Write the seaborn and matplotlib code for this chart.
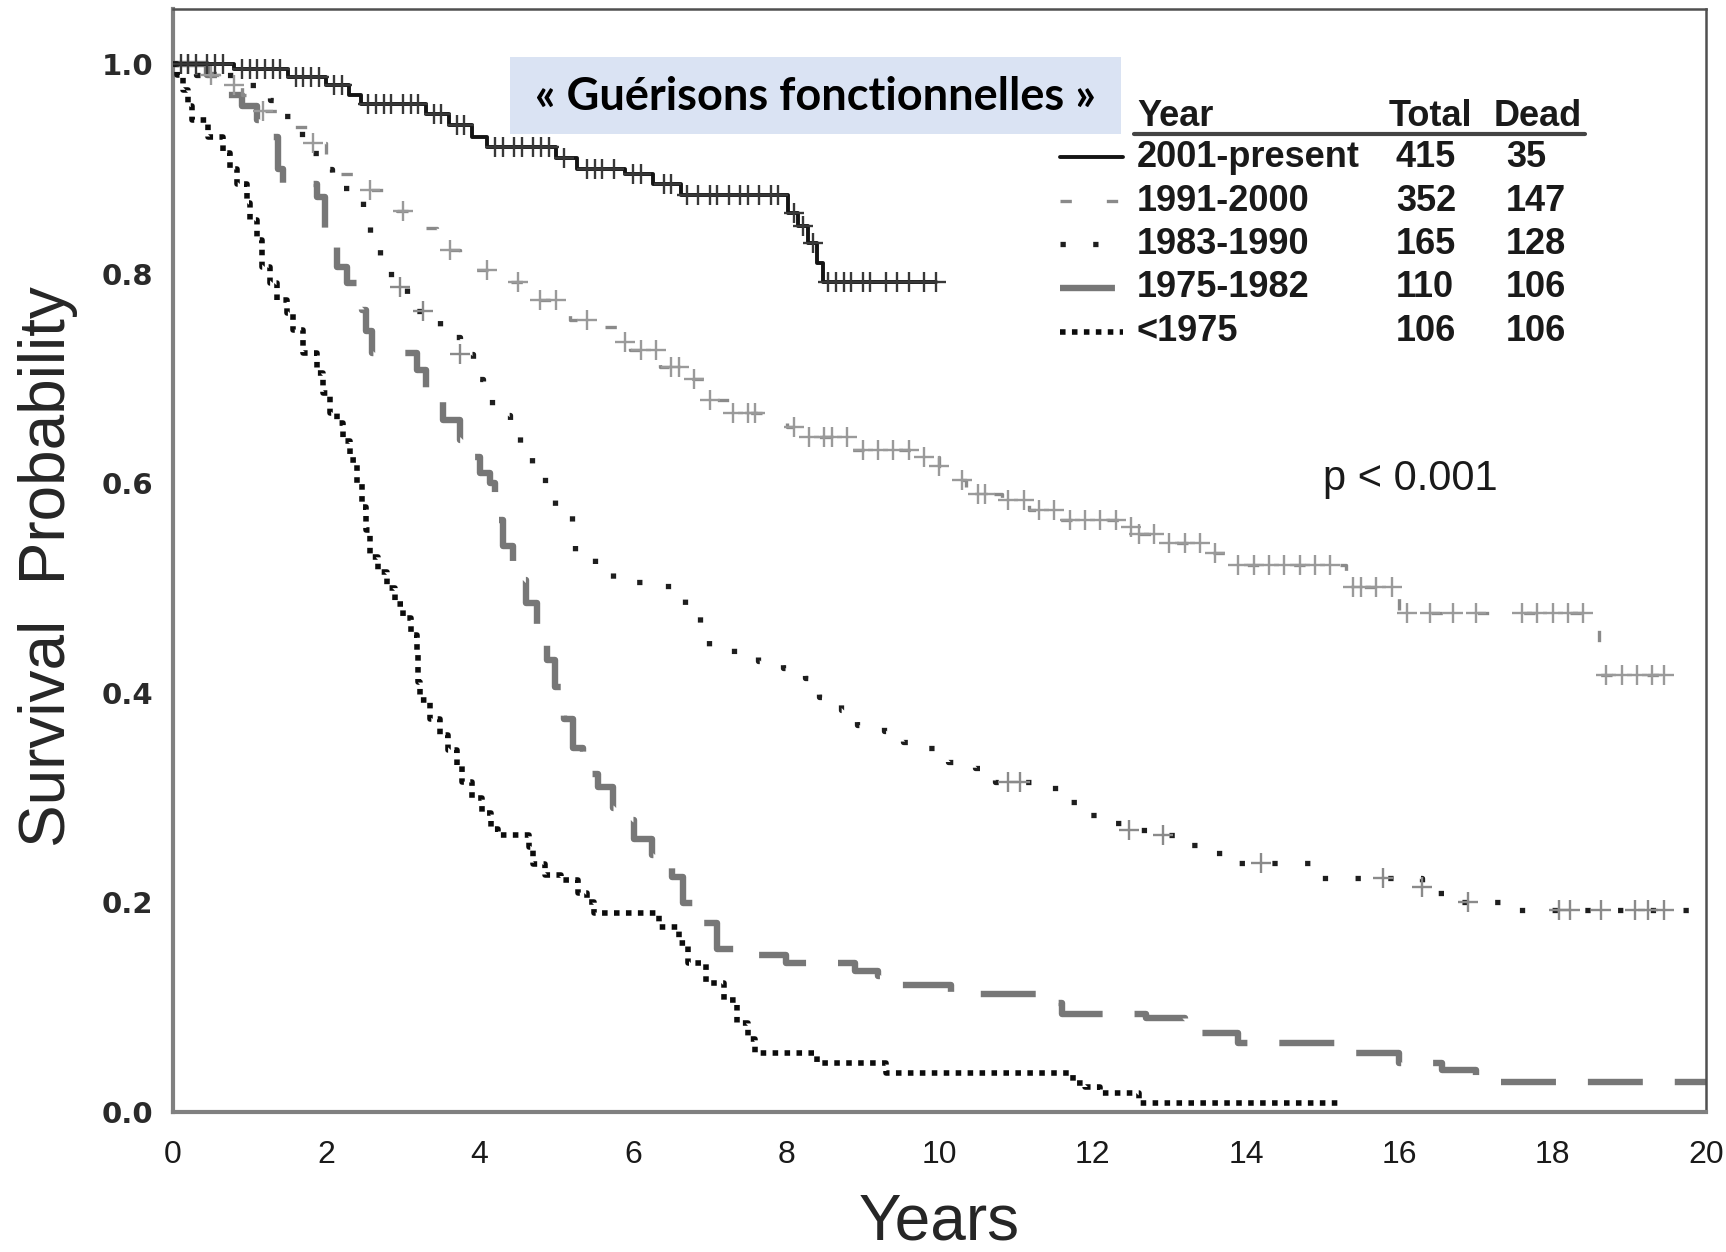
import numpy as np
import pandas as pd
import matplotlib
matplotlib.use("Agg")
import matplotlib.pyplot as plt
import seaborn as sns
from matplotlib.lines import Line2D
from matplotlib.patches import Rectangle

sns.set_style("white")
plt.rcParams["font.family"] = ["Liberation Sans", "DejaVu Sans"]

# ---- Kaplan-Meier step data (years, survival) ----
t_2001 = [0, 0.8, 1.5, 2.0, 2.3, 2.45, 3.3, 3.6, 3.9, 4.1, 5.0, 5.27, 5.9, 6.26,
          6.63, 8.02, 8.15, 8.28, 8.4, 8.48, 9.95]
s_2001 = [1.0, 0.995, 0.988, 0.98, 0.97, 0.962, 0.952, 0.942, 0.93, 0.921, 0.91,
          0.9, 0.895, 0.886, 0.875, 0.858, 0.845, 0.829, 0.81, 0.792, 0.792]
c_2001 = [0.1, 0.2, 0.3, 0.45, 0.55, 0.65, 0.9, 1.0, 1.1, 1.2, 1.3, 1.4, 1.6, 1.7,
          1.8, 1.9, 2.1, 2.2, 2.55, 2.65, 2.75, 2.85, 3.0, 3.1, 3.2, 3.4, 3.5, 3.7,
          3.8, 4.2, 4.3, 4.45, 4.55, 4.7, 4.8, 4.9, 5.1, 5.4, 5.5, 5.6, 5.75, 6.0,
          6.1, 6.4, 6.5, 6.7, 6.85, 7.0, 7.1, 7.25, 7.4, 7.5, 7.65, 7.8, 7.9,
          8.1, 8.22, 8.35, 8.55, 8.65, 8.75, 8.85, 9.0, 9.1, 9.3, 9.45, 9.6, 9.8, 9.95]

t_1991 = [0, 0.3, 0.6, 0.9, 1.1, 1.5, 1.83, 2.0, 2.18, 2.57, 2.75, 2.92, 3.29, 3.45,
          3.61, 3.75, 3.91, 4.36, 4.79, 5.18, 5.61, 5.8, 5.96, 6.35, 6.79, 6.97, 7.25,
          8.01, 8.25, 8.83, 9.64, 9.99, 10.23, 10.35, 10.82, 11.17, 11.57, 12.38,
          12.56, 12.97, 13.44, 13.84, 15.3, 16.0, 18.55, 18.6, 19.45]
s_1991 = [1.0, 0.99, 0.98, 0.97, 0.955, 0.94, 0.925, 0.91, 0.895, 0.88, 0.87, 0.86,
          0.844, 0.835, 0.823, 0.812, 0.803, 0.792, 0.775, 0.756, 0.749, 0.735,
          0.727, 0.711, 0.699, 0.679, 0.667, 0.654, 0.644, 0.632, 0.625, 0.616,
          0.603, 0.59, 0.584, 0.574, 0.565, 0.558, 0.552, 0.543, 0.533, 0.522,
          0.501, 0.476, 0.463, 0.417, 0.417]
c_1991 = [0.2, 0.5, 0.8, 1.17, 1.83, 2.57, 3.0, 3.61, 4.1, 4.5, 4.79, 5.0, 5.4, 5.9,
          6.1, 6.3, 6.5, 6.6, 6.8, 7.0, 7.3, 7.5, 7.6, 8.1, 8.3, 8.5, 8.6, 8.8, 9.0,
          9.2, 9.4, 9.6, 9.8, 10.0, 10.3, 10.5, 10.6, 10.9, 11.1, 11.3, 11.5, 11.7,
          11.9, 12.1, 12.3, 12.5, 12.6, 12.8, 13.0, 13.2, 13.4, 13.6, 13.9, 14.1,
          14.3, 14.5, 14.7, 14.9, 15.1, 15.4, 15.5, 15.7, 15.9, 16.1, 16.4, 16.7,
          17.0, 17.6, 17.8, 18.0, 18.2, 18.4, 18.7, 18.9, 19.1, 19.3, 19.45]

t_1983 = [0, 0.3, 0.9, 1.27, 1.4, 1.57, 1.68, 1.92, 2.07, 2.35, 2.48, 2.57, 2.7, 2.85,
          3.05, 3.1, 3.49, 3.75, 3.92, 4.05, 4.16, 4.4, 4.53, 4.68, 4.85, 4.98, 5.2,
          5.24, 5.5, 5.74, 6.46, 6.68, 6.88, 6.99, 7.32, 7.63, 7.96, 8.25, 8.43,
          8.72, 8.92, 9.27, 9.52, 9.85, 10.11, 10.46, 10.72, 11.45, 11.68, 11.93,
          12.22, 12.47, 12.92, 13.2, 13.53, 13.83, 14.88, 16.3, 16.45, 16.66, 17.39,
          19.95]
s_1983 = [1.0, 0.99, 0.98, 0.966, 0.95, 0.937, 0.915, 0.9, 0.882, 0.873, 0.849, 0.825,
          0.805, 0.787, 0.768, 0.764, 0.74, 0.723, 0.699, 0.68, 0.665, 0.654, 0.632,
          0.611, 0.594, 0.573, 0.555, 0.53, 0.517, 0.506, 0.498, 0.481, 0.467, 0.444,
          0.436, 0.43, 0.424, 0.414, 0.396, 0.384, 0.369, 0.364, 0.353, 0.347, 0.334,
          0.328, 0.315, 0.309, 0.296, 0.283, 0.276, 0.269, 0.264, 0.255, 0.247,
          0.238, 0.223, 0.215, 0.209, 0.2, 0.193, 0.193]
c_1983 = [2.96, 3.26, 3.75, 10.9, 11.05, 12.47, 12.92, 14.19, 15.79, 16.3, 16.9,
          18.08, 18.23, 18.63, 19.07, 19.25, 19.45]

t_1975 = [0, 0.45, 0.7, 0.9, 1.1, 1.17, 1.37, 1.44, 1.88, 1.98, 2.05, 2.14, 2.27,
          2.47, 2.52, 2.6, 3.18, 3.3, 3.39, 3.52, 3.74, 3.9, 4.0, 4.13, 4.2, 4.3,
          4.44, 4.6, 4.75, 4.88, 4.98, 5.1, 5.22, 5.35, 5.55, 5.74, 5.78, 6.01, 6.25,
          6.51, 6.65, 6.9, 7.1, 7.5, 8.0, 8.9, 9.2, 9.5, 10.15, 11.42, 11.6, 12.7,
          13.2, 13.42, 13.9, 15.17, 16.0, 16.56, 17.0, 17.29, 20.0]
s_1975 = [1.0, 0.99, 0.97, 0.96, 0.947, 0.93, 0.9, 0.886, 0.873, 0.84, 0.825, 0.806,
          0.791, 0.765, 0.745, 0.724, 0.708, 0.69, 0.68, 0.66, 0.641, 0.625, 0.61,
          0.6, 0.565, 0.54, 0.508, 0.486, 0.46, 0.431, 0.406, 0.375, 0.347, 0.323,
          0.31, 0.29, 0.279, 0.261, 0.245, 0.224, 0.199, 0.18, 0.156, 0.15, 0.142,
          0.135, 0.13, 0.121, 0.113, 0.104, 0.094, 0.09, 0.08, 0.075, 0.066, 0.056,
          0.047, 0.04, 0.032, 0.029, 0.029]

t_pre75 = [0, 0.05, 0.13, 0.2, 0.25, 0.46, 0.65, 0.75, 0.83, 0.96, 1.0, 1.1, 1.16,
           1.27, 1.36, 1.49, 1.57, 1.7, 1.88, 1.96, 2.05, 2.14, 2.22, 2.31, 2.4,
           2.46, 2.52, 2.57, 2.68, 2.79, 2.9, 3.0, 3.1, 3.18, 3.2, 3.22, 3.35, 3.48,
           3.59, 3.7, 3.77, 3.9, 4.03, 4.15, 4.24, 4.65, 4.7, 4.85, 5.06, 5.28, 5.4,
           5.49, 6.34, 6.6, 6.72, 6.95, 7.19, 7.36, 7.5, 7.59, 8.4, 9.3, 11.74, 11.9,
           12.1, 12.6, 15.25]
s_pre75 = [1.0, 0.99, 0.975, 0.96, 0.947, 0.93, 0.915, 0.9, 0.886, 0.867, 0.851,
           0.832, 0.806, 0.791, 0.775, 0.762, 0.746, 0.724, 0.705, 0.686, 0.667,
           0.657, 0.64, 0.622, 0.6, 0.577, 0.555, 0.53, 0.515, 0.5, 0.485, 0.471,
           0.455, 0.438, 0.41, 0.393, 0.375, 0.36, 0.345, 0.33, 0.315, 0.3, 0.285,
           0.27, 0.264, 0.253, 0.237, 0.226, 0.221, 0.209, 0.2, 0.19, 0.177, 0.161,
           0.142, 0.123, 0.107, 0.085, 0.07, 0.056, 0.047, 0.037, 0.028, 0.024,
           0.018, 0.009, 0.009]

groups = ["2001-present", "1991-2000", "1983-1990", "1975-1982", "<1975"]
totals = [415, 352, 165, 110, 106]
deaths = [35, 147, 128, 106, 106]

series = {
    "2001-present": (t_2001, s_2001, c_2001),
    "1991-2000": (t_1991, s_1991, c_1991),
    "1983-1990": (t_1983, s_1983, c_1983),
    "1975-1982": (t_1975, s_1975, []),
    "<1975": (t_pre75, s_pre75, []),
}

styles = {
    "2001-present": dict(color="#141414", lw=2.8, ls="-", cens="#383838", z=6),
    "1991-2000": dict(color="#8a8a8a", lw=2.4, ls=(0, (3.4, 10.5)), cens="#9a9a9a", z=4),
    "1983-1990": dict(color="#1e1e1e", lw=3.8, ls=(0, (1, 5.2)), cens="#8a8a8a", z=3),
    "1975-1982": dict(color="#777777", lw=4.6, ls=(0, (8.6, 5.0)), cens=None, z=2),
    "<1975": dict(color="#0c0c0c", lw=4.0, ls=(0, (1, 1.15)), cens=None, z=5),
}

# ---- figure ----
fig = plt.figure(figsize=(17.26, 12.52), dpi=100)
ax = fig.add_axes([0.1002, 0.1118, 0.8882, 0.881])

for name in groups:
    t, s, c = series[name]
    st = styles[name]
    df = pd.DataFrame({"Years": t, "Survival": s})
    sns.lineplot(data=df, x="Years", y="Survival", ax=ax, estimator=None, sort=False,
                 drawstyle="steps-post", color=st["color"], linewidth=st["lw"],
                 zorder=st["z"])
    line = ax.lines[-1]
    line.set_linestyle(st["ls"])
    line.set_dash_capstyle("butt")
    if len(c):
        idx = np.searchsorted(t, c, side="right") - 1
        cdf = pd.DataFrame({"Years": c, "Survival": np.asarray(s)[idx]})
        sns.scatterplot(data=cdf, x="Years", y="Survival", ax=ax, marker="+", s=200,
                        color=st["cens"], linewidth=1.7, zorder=st["z"] + 0.5)

ax.set_xlim(0, 20)
ax.set_ylim(0, 1.0525)
ax.set_xticks(range(0, 21, 2))
ax.set_xticks(range(0, 21, 1), minor=True)
ax.set_yticks([0, 0.2, 0.4, 0.6, 0.8, 1.0])
ax.set_yticklabels(["0.0", "0.2", "0.4", "0.6", "0.8", "1.0"])
ax.tick_params(axis="x", which="both", direction="in", length=9, width=1.5,
               color="#555555", pad=20, labelsize=23)
ax.tick_params(axis="y", direction="out", length=6, width=1.5, color="#666666",
               pad=8, labelsize=21)
for lab in ax.get_yticklabels():
    lab.set_fontfamily("DejaVu Sans")
    lab.set_fontweight("bold")
    lab.set_color("#2a2a2a")
for lab in ax.get_xticklabels():
    lab.set_color("#1a1a1a")
ax.set_xlabel("")
ax.set_ylabel("")

for side in ["left", "bottom"]:
    ax.spines[side].set_color("#808080")
    ax.spines[side].set_linewidth(3.0)
for side in ["top", "right"]:
    ax.spines[side].set_color("#505050")
    ax.spines[side].set_linewidth(1.8)

# ---- axis titles ----
fig.text(48 / 1726, 1 - 567 / 1252, "Survival  Probability", rotation=90,
         ha="center", va="center", fontsize=46)
fig.text(939 / 1726, 1 - 1222 / 1252, "Years", ha="center", va="center", fontsize=46)

# ---- table-style legend ----
tr = ax.transAxes
fs = 26
hy = 0.903
ax.text(0.6288, hy, "Year", transform=tr, ha="left", va="center", fontsize=fs,
        fontweight="bold", color="#1a1a1a")
ax.text(0.7932, hy, "Total", transform=tr, ha="left", va="center", fontsize=fs,
        fontweight="bold", color="#1a1a1a")
ax.text(0.8617, hy, "Dead", transform=tr, ha="left", va="center", fontsize=fs,
        fontweight="bold", color="#1a1a1a")
ax.add_line(Line2D([0.6269, 0.9211], [0.8867, 0.8867], transform=tr, color="#444444",
                   lw=3.0))
row_y = [0.8658, 0.8259, 0.7869, 0.7471, 0.7072]
for name, tot, dd, yy in zip(groups, totals, deaths, row_y):
    st = styles[name]
    ax.add_line(Line2D([0.5786, 0.6197], [yy, yy], transform=tr, color=st["color"],
                       lw=st["lw"], ls=st["ls"], dash_capstyle="butt"))
    ax.text(0.6288, yy, name, transform=tr, ha="left", va="center", fontsize=fs,
            fontweight="bold", color="#1a1a1a")
    ax.text(0.7978, yy, str(tot), transform=tr, ha="left", va="center", fontsize=fs,
            fontweight="bold", color="#1a1a1a")
    ax.text(0.8695, yy, str(dd), transform=tr, ha="left", va="center", fontsize=fs,
            fontweight="bold", color="#1a1a1a")

# ---- annotations ----
ax.text(15.0, 0.604, "p < 0.001", ha="left", va="center", fontsize=30, color="#1a1a1a")

ax.add_patch(Rectangle((0.2198, 0.8867), 0.3986, 0.0698, transform=tr,
                       facecolor="#dae3f3", edgecolor="none", zorder=7))
ax.text(0.4188, 0.9205, "« Guérisons fonctionnelles »", transform=tr, ha="center",
        va="center", fontsize=32.5, fontweight="bold", family=["Lato", "DejaVu Sans"],
        color="#000000", zorder=8)

fig.savefig("out.png", dpi=100)
